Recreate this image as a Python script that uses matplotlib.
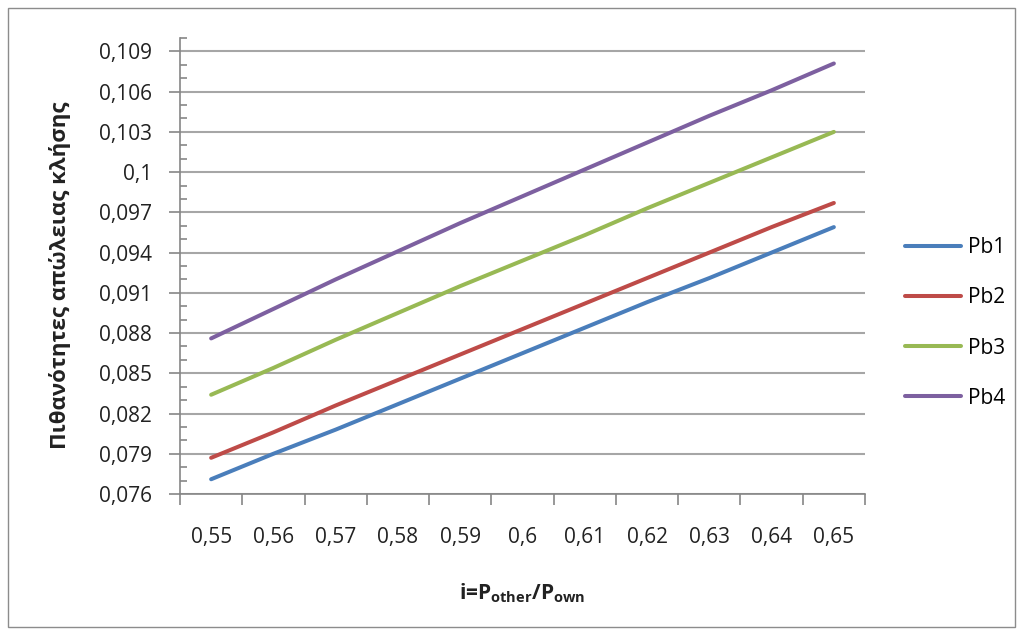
import matplotlib
matplotlib.use("Agg")
import matplotlib.pyplot as plt
from matplotlib.patches import Rectangle
from matplotlib.ticker import FixedLocator, MultipleLocator, FuncFormatter

plt.rcParams['font.family'] = ['Open Sans', 'DejaVu Sans']
plt.rcParams['mathtext.fontset'] = 'custom'
plt.rcParams['mathtext.rm'] = 'Open Sans'
plt.rcParams['mathtext.bf'] = 'Open Sans:bold'

# Traffic ratio categories
categories = ["0,55", "0,56", "0,57", "0,58", "0,59", "0,6",
              "0,61", "0,62", "0,63", "0,64", "0,65"]

# Call-loss probabilities per series
pb1 = [0.0771, 0.0790, 0.0808, 0.0827, 0.0846, 0.0865,
       0.0884, 0.0903, 0.0921, 0.0940, 0.0959]
pb2 = [0.0787, 0.0806, 0.0826, 0.0845, 0.0864, 0.0883,
       0.0902, 0.0921, 0.0940, 0.0959, 0.0977]
pb3 = [0.0834, 0.0854, 0.0875, 0.0895, 0.0915, 0.0934,
       0.0953, 0.0973, 0.0992, 0.1011, 0.1030]
pb4 = [0.0876, 0.0898, 0.0920, 0.0941, 0.0962, 0.0982,
       0.1002, 0.1022, 0.1042, 0.1061, 0.1081]

series = [("Pb1", pb1, "#4a7ebb"),
          ("Pb2", pb2, "#be4b48"),
          ("Pb3", pb3, "#98b954"),
          ("Pb4", pb4, "#7d60a0")]

y_ticks = [0.076, 0.079, 0.082, 0.085, 0.088, 0.091,
           0.094, 0.097, 0.100, 0.103, 0.106, 0.109]

W, H = 1023, 635
fig = plt.figure(figsize=(W / 100, H / 100), dpi=100)
fig.patch.set_facecolor("white")

# chart outline
fig.patches.append(Rectangle((8 / W, 1 - 627 / H), (1015 - 8) / W, (627 - 8) / H,
                             transform=fig.transFigure, fill=False,
                             edgecolor="#8c8c8c", linewidth=1.0))

ax = fig.add_axes([180 / W, 1 - 494 / H, (865 - 180) / W, (494 - 38) / H])

x = list(range(len(categories)))
for name, vals, col in series:
    ax.plot(x, vals, color=col, linewidth=2.9, solid_capstyle="round",
            solid_joinstyle="round", label=name, zorder=3)

grid_col = "#a6a6a6"
axis_col = "#868686"

ax.set_xlim(-0.5, len(categories) - 0.5)
ax.set_ylim(0.076, 0.110)

# category boundaries get the tick marks, centres get the labels
ax.xaxis.set_major_locator(FixedLocator([i - 0.5 for i in range(len(categories) + 1)]))
ax.xaxis.set_major_formatter(FuncFormatter(lambda v, p: ""))
ax.xaxis.set_minor_locator(FixedLocator(x))
ax.set_xticklabels(categories, minor=True)
ax.tick_params(axis="x", which="major", direction="out", length=8,
               width=1.2, color=axis_col)
ax.tick_params(axis="x", which="minor", length=0, pad=24,
               labelsize=15, labelcolor="#222222")

ax.yaxis.set_major_locator(FixedLocator(y_ticks))
ax.yaxis.set_major_formatter(FuncFormatter(
    lambda v, p: ("%g" % round(v, 3)).replace(".", ",")))
ax.yaxis.set_minor_locator(MultipleLocator(0.001))
ax.tick_params(axis="y", which="major", direction="out", length=8,
               width=1.2, color=axis_col, pad=12, labelsize=15,
               labelcolor="#222222")
ax.tick_params(axis="y", which="minor", direction="in", length=5,
               width=1.2, color=axis_col)

ax.grid(axis="y", which="major", color=grid_col, linewidth=1.5, zorder=0)
ax.set_axisbelow(True)
for s in ("top", "right"):
    ax.spines[s].set_visible(False)
for s in ("left", "bottom"):
    ax.spines[s].set_color(axis_col)
    ax.spines[s].set_linewidth(1.2)

fig.text(60 / W, 1 - 275 / H, "Πιθανότητες απώλειας κλήσης", rotation=90,
         ha="center", va="center", fontsize=16, fontweight="bold",
         color="#222222")
fig.text(522 / W, 1 - 593 / H, r"i=$\mathbf{P_{other}/P_{own}}$",
         ha="center", va="center", fontsize=15, fontweight="bold",
         color="#222222")

fig.legend(loc="center left", bbox_to_anchor=(905 / W, 1 - 323 / H),
           frameon=False, fontsize=15, handlelength=2.7, handletextpad=0.3,
           labelspacing=1.4, borderpad=0, borderaxespad=0)

fig.savefig("out.png", dpi=100, facecolor="white")
